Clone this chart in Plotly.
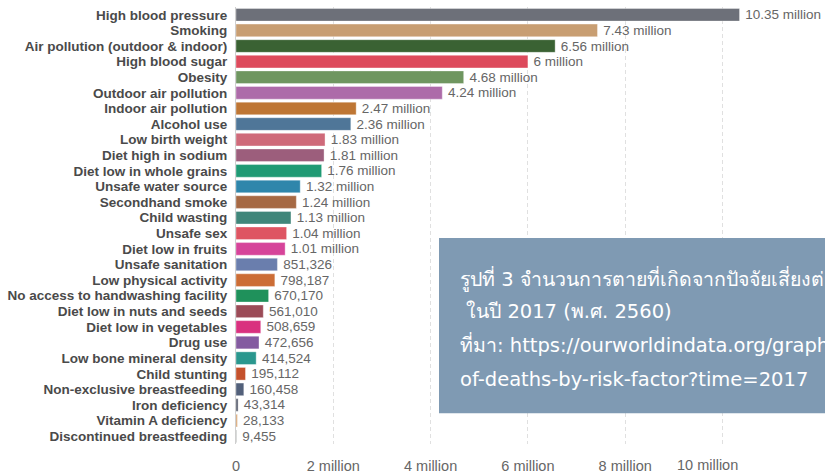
import plotly.graph_objects as go

# Deaths by risk factor, world, 2017
risk_factors = [
    "High blood pressure", "Smoking", "Air pollution (outdoor & indoor)",
    "High blood sugar", "Obesity", "Outdoor air pollution",
    "Indoor air pollution", "Alcohol use", "Low birth weight",
    "Diet high in sodium", "Diet low in whole grains", "Unsafe water source",
    "Secondhand smoke", "Child wasting", "Unsafe sex", "Diet low in fruits",
    "Unsafe sanitation", "Low physical activity",
    "No access to handwashing facility", "Diet low in nuts and seeds",
    "Diet low in vegetables", "Drug use", "Low bone mineral density",
    "Child stunting", "Non-exclusive breastfeeding", "Iron deficiency",
    "Vitamin A deficiency", "Discontinued breastfeeding",
]
deaths = [
    10.35e6, 7.43e6, 6.56e6, 6.00e6, 4.68e6, 4.24e6, 2.47e6, 2.36e6,
    1.83e6, 1.81e6, 1.76e6, 1.32e6, 1.24e6, 1.13e6, 1.04e6, 1.01e6,
    851326, 798187, 670170, 561010, 508659, 472656, 414524, 195112,
    160458, 43314, 28133, 9455,
]
bar_colors = [
    "#6d7079", "#c89e72", "#3a6233", "#dd4a5c", "#6f9660", "#ad6ba9",
    "#be7634", "#4f7698", "#cf6a7a", "#9c5e7c", "#1f9a74", "#2f86ab",
    "#a66944", "#40867a", "#de5562", "#d6449a", "#6a7ead", "#cc6d36",
    "#1f915b", "#9b4b57", "#d9317f", "#845ba0", "#2a978e", "#c4512c",
    "#52607a", "#5b6070", "#d6a06b", "#6b7570",
]
tick_vals = [0, 2e6, 4e6, 6e6, 8e6, 10e6]
tick_text = ["0", "2 million", "4 million", "6 million", "8 million", "10 million"]

caption_lines = [
    "รูปที่ 3 จำนวนการตายที่เกิดจากปัจจัยเสี่ยงต่างๆ",
    " ในปี 2017 (พ.ศ. 2560)",
    "ที่มา: https://ourworldindata.org/grapher/number-",
    "of-deaths-by-risk-factor?time=2017",
]


def fmt(v):
    if v >= 1e6:
        s = f"{v / 1e6:.2f}".rstrip("0").rstrip(".")
        return f"{s} million"
    return f"{int(v):,}"


W, H = 825, 474
ML, MR, MT, MB = 236, 0, 7, 26
px_per_unit = 48.65 / 1e6
x_max = (W - ML - MR) / px_per_unit
GRID = "#e0e0e0"
FONT = "Liberation Sans, Arial, sans-serif"

fig = go.Figure(
    go.Bar(
        x=deaths,
        y=risk_factors,
        orientation="h",
        marker=dict(color=bar_colors, line=dict(color="rgba(255,255,255,0.35)", width=1)),
        text=["\u2009" + fmt(v) for v in deaths],
        textposition="outside",
        constraintext="none",
        textfont=dict(family=FONT, size=13.5, color="#666666"),
        cliponaxis=False,
        hoverinfo="skip",
    )
)

fig.update_layout(
    width=W,
    height=H,
    margin=dict(l=ML, r=MR, t=MT, b=MB),
    paper_bgcolor="white",
    plot_bgcolor="white",
    bargap=0.19,
    showlegend=False,
    xaxis=dict(
        range=[0, x_max],
        tickvals=tick_vals[:-1],
        ticktext=tick_text[:-1],
        tickfont=dict(family=FONT, size=14.5, color="#666666"),
        showgrid=True,
        gridcolor=GRID,
        griddash="4px,3px",
        gridwidth=1,
        zeroline=False,
        showline=False,
        ticks="",
        ticklabelstandoff=11,
        fixedrange=True,
    ),
    yaxis=dict(
        categoryorder="array",
        categoryarray=risk_factors,
        tickmode="array",
        tickvals=risk_factors,
        autorange="reversed",
        tickfont=dict(family=FONT, size=13.5, color="#4a4a4a", weight="bold"),
        showgrid=False,
        zeroline=False,
        showline=True,
        linecolor="#cfcfcf",
        linewidth=1,
        ticks="",
        ticklabelstandoff=5,
        fixedrange=True,
    ),
)

# 10 million gridline and its label, shifted left to stay inside the frame
fig.add_shape(type="line", xref="x", yref="paper", x0=10e6, x1=10e6, y0=0, y1=1,
              line=dict(color=GRID, width=1, dash="4px,3px"), layer="below")
fig.add_annotation(x=tick_vals[-1], y=0, xref="x", yref="paper", yanchor="top",
                   text=tick_text[-1], showarrow=False, xshift=-15, yshift=-11,
                   font=dict(family=FONT, size=14.5, color="#666666"))

# Caption panel
plot_h = H - MT - MB
def py(y_px):
    return (H - MB - y_px) / plot_h

def px(x_px):
    return (x_px - ML) / (W - ML - MR)

fig.add_shape(type="rect", xref="paper", yref="paper",
              x0=px(439), x1=px(900), y0=py(417), y1=py(240),
              fillcolor="#7f9ab3", line=dict(width=0), layer="above")

line_centres = [281, 314, 348, 383]
for line, yc in zip(caption_lines, line_centres):
    fig.add_annotation(x=px(458), y=py(yc), xref="paper", yref="paper",
                       xanchor="left", yanchor="middle", text=line, showarrow=False,
                       align="left",
                       font=dict(family="DejaVu Sans, Tahoma, sans-serif", size=19.5,
                                 color="white"))

fig.write_html("out.html")
